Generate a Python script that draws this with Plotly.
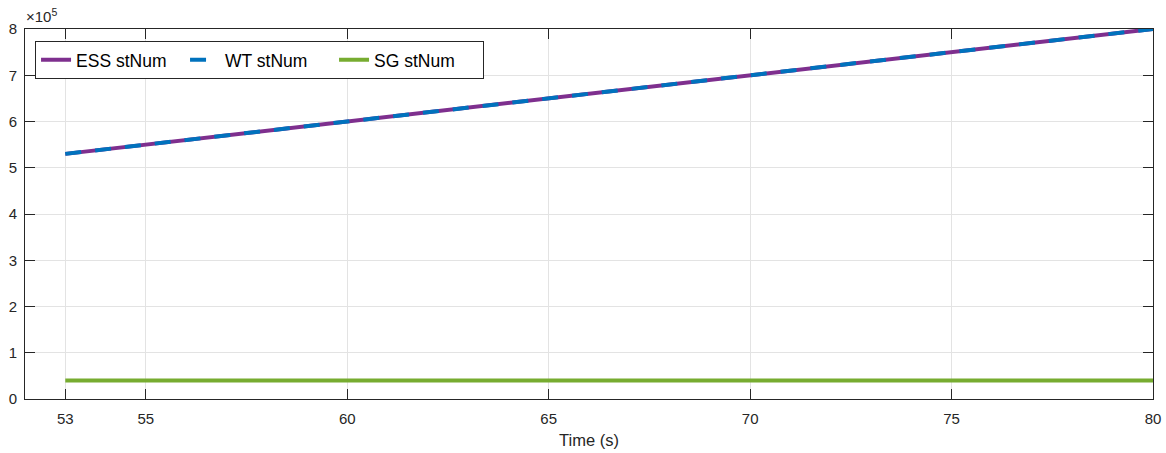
import plotly.graph_objects as go

# Time span of the recording (s) and status counters of each unit
time_s = [53, 80]
ess_stnum = [530000, 800000]
wt_stnum = [530000, 800000]
sg_stnum = [40000, 40000]

x_ticks = [53, 55, 60, 65, 70, 75, 80]
y_ticks = [0, 100000, 200000, 300000, 400000, 500000, 600000, 700000, 800000]
y_ticktext = ["0", "1", "2", "3", "4", "5", "6", "7", "8"]

PURPLE = "#7E2F8E"
BLUE = "#0072BD"
GREEN = "#77AC30"
AXIS = "#262626"
GRID = "#e3e3e3"
FONT = "Liberation Sans, Arial, Helvetica, sans-serif"

fig = go.Figure()
fig.add_trace(go.Scatter(x=time_s, y=ess_stnum, mode="lines", name="ESS stNum",
                         line=dict(color=PURPLE, width=4)))
fig.add_trace(go.Scatter(x=time_s, y=wt_stnum, mode="lines", name="WT stNum",
                         line=dict(color=BLUE, width=4, dash="16px,14px")))
fig.add_trace(go.Scatter(x=time_s, y=sg_stnum, mode="lines", name="SG stNum",
                         line=dict(color=GREEN, width=4)))

axis_common = dict(
    showline=True, linecolor=AXIS, linewidth=1, mirror="allticks",
    ticks="inside", ticklen=10, tickwidth=1, tickcolor=AXIS,
    showgrid=True, gridcolor=GRID, gridwidth=1, zeroline=False,
    automargin=False,
    tickfont=dict(family=FONT, size=15, color=AXIS),
)

fig.update_layout(
    width=1166, height=453,
    margin=dict(l=25, r=13, t=29, b=54),
    paper_bgcolor="white", plot_bgcolor="white",
    font=dict(family=FONT, color=AXIS),
    xaxis=dict(range=[52, 80], tickvals=x_ticks, ticklabelstandoff=6, **axis_common,
               title=dict(text="Time (s)", font=dict(family=FONT, size=16.5, color=AXIS),
                          standoff=8)),
    yaxis=dict(range=[0, 800000], tickvals=y_ticks, ticktext=y_ticktext,
               ticklabelstandoff=4, **axis_common),
    legend=dict(
        x=0.0089, y=0.968, xanchor="left", yanchor="top",
        orientation="h", bgcolor="white", bordercolor=AXIS, borderwidth=1,
        font=dict(family=FONT, size=17.5, color="black"),
        entrywidth=104, tracegroupgap=0,
    ),
    annotations=[dict(
        text="×10<sup>5</sup>", xref="paper", yref="paper", x=0, y=1,
        xanchor="left", yanchor="bottom", showarrow=False, xshift=-1, yshift=2,
        font=dict(family=FONT, size=15, color=AXIS),
    )],
)

fig.write_html("out.html")
